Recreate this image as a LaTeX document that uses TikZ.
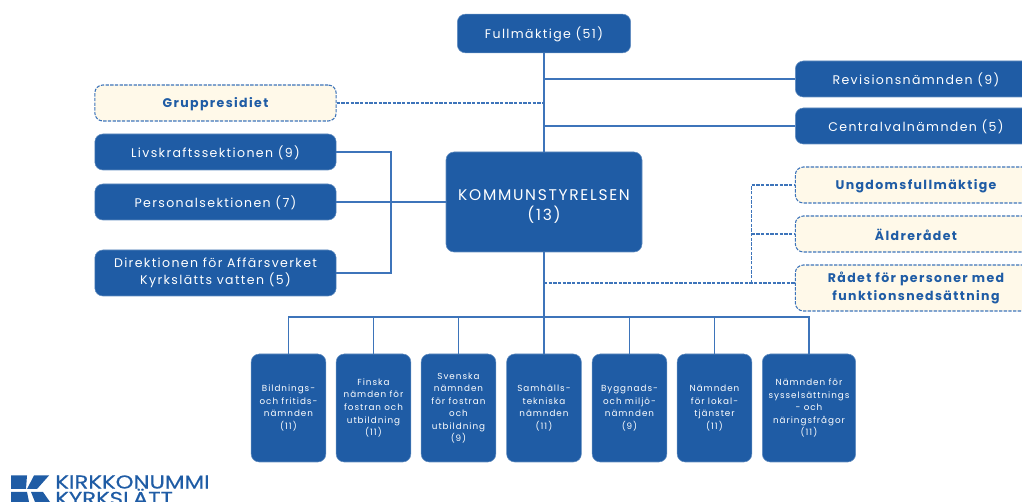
\documentclass[tikz,border=0pt]{standalone}
\usepackage{fontspec}
\setmainfont[LetterSpace=11]{Poppins}
\newfontfamily\logofont[FakeStretch=1.22,FakeBold=0.4]{Poppins}
\usetikzlibrary{positioning}
\definecolor{boxblue}{HTML}{1F5CA5}
\definecolor{linkblue}{HTML}{3D74BA}
\definecolor{creamfill}{HTML}{FFF9E9}

\begin{document}
\begin{tikzpicture}[
    x=0.75pt, y=-0.75pt,
    organ/.style={rectangle, rounded corners=6pt, draw=boxblue!70, fill=boxblue, text=white, align=center, inner sep=0pt, font=\fontsize{9.4}{13}\selectfont, execute at begin node={\rule{0pt}{10pt}}},
    sidebox/.style={organ, minimum width=181pt, minimum height=27pt},
    advisory/.style={rectangle, rounded corners=6pt, draw=linkblue, line width=0.8pt, dash pattern=on 2.5pt off 1pt, fill=creamfill, text=boxblue, align=center, inner sep=0pt, minimum width=181pt, minimum height=27pt, font=\fontsize{9.4}{13}\selectfont\bfseries, execute at begin node={\rule{0pt}{10pt}}},
    board/.style={organ, minimum width=56pt, minimum height=81pt, font=\fontsize{6.6}{9.4}\selectfont, execute at begin node={}},
    link/.style={draw=linkblue, line width=0.9pt},
    dashlink/.style={link, dash pattern=on 2.5pt off 1pt}
]
\useasboundingbox (0,0) rectangle (1022,502);

% Top level
\node[organ, minimum width=130pt, minimum height=29pt] at (544,33.5) (full) {Fullmäktige (51)};
\node[organ, minimum width=147pt, minimum height=75pt, font=\fontsize{11.6}{15}\selectfont, execute at begin node={}] at (544,202) (kst) {\rule{0pt}{15pt}KOMMUNSTYRELSEN\\(13)};

% Right column
\node[sidebox] at (916,79) (rev) {Revisionsnämnden (9)};
\node[sidebox] at (916,126) (cval) {Centralvalnämnden (5)};
\node[advisory] at (916,185) (ung) {Ungdomsfullmäktige};
\node[advisory] at (916,234) (aldre) {Äldrerådet};
\node[advisory, minimum height=34.5pt] at (916,288) (rad) {Rådet för personer med\\funktionsnedsättning};

% Left column
\node[advisory] at (215.5,103) (grp) {Gruppresidiet};
\node[sidebox] at (215.5,152) (liv) {Livskraftssektionen (9)};
\node[sidebox] at (215.5,202) (pers) {Personalsektionen (7)};
\node[sidebox, minimum height=34.5pt] at (215.5,273) (dir) {Direktionen för Affärsverket\\Kyrkslätts vatten (5)};

% Boards
\node[board] at (288.5,408) (b1) {Bildnings-\\och fritids-\\nämnden\\(11)};
\node[board] at (373.5,408) (b2) {Finska\\nämden för\\fostran och\\utbildning\\(11)};
\node[board] at (458.5,408) (b3) {Svenska\\nämnden\\för fostran\\och\\utbildning\\(9)};
\node[board] at (544,408) (b4) {Samhälls-\\tekniska\\nämnden\\(11)};
\node[board] at (629.5,408) (b5) {Byggnads-\\och miljö-\\nämnden\\(9)};
\node[board] at (714.5,408) (b6) {Nämnden\\för lokal-\\tjänster\\(11)};
\node[board, minimum width=70pt] at (809,408) (b7) {Nämnden för\\sysselsättnings\\- och\\näringsfrågor\\(11)};

% Trunk
\coordinate (bus) at (544,317);
\coordinate (dashroot) at (544,283);
\coordinate (dashup) at (751.5,283);
\coordinate (midright) at (391,202);
\draw[link] (full.south) -- (kst.north);
\draw[link] (kst.south) -- (bus);

% Top branches
\draw[link] (rev.west) -- (full.south |- rev.west);
\draw[link] (cval.west) -- (full.south |- cval.west);
\draw[dashlink] (grp.east) -- (full.south |- grp.east);

% Left sections
\draw[link] (liv.east) -| (midright) |- (dir.east);
\draw[link] (pers.east) -- (kst.west);

% Advisory councils
\draw[dashlink] (dashroot) -- (dashroot -| rad.west);
\draw[dashlink] (dashup) |- (ung.west);
\draw[dashlink] (dashup |- aldre.west) -- (aldre.west);

% Board bus
\draw[link] (b1.north) |- (b7.north |- bus) -- (b7.north);
\foreach \n in {b2,b3,b4,b5,b6}
    \draw[link] (\n.north) -- (\n.north |- bus);

% Logo
\fill[boxblue] (11,475.5) -- (27,475.5) -- (26,489) -- (11,489) -- cycle;
\fill[boxblue] (49,475.5) -- (34,475.5) -- (27,489) -- (37,489) -- cycle;
\fill[boxblue] (11,492) -- (27,492) -- (29,502) -- (11,502) -- cycle;
\fill[boxblue] (31,492) -- (43,492) -- (50,502) -- (35,502) -- cycle;
\node[anchor=base west, inner sep=0pt, text=boxblue, font=\logofont\fontsize{14}{16}\selectfont] at (55,488.5) (logoa) {KIRKKONUMMI};
\node[anchor=base west, inner sep=0pt, text=boxblue, font=\logofont\fontsize{14}{16}\selectfont] at (55,505) (logob) {KYRKSLÄTT};
\end{tikzpicture}
\end{document}
